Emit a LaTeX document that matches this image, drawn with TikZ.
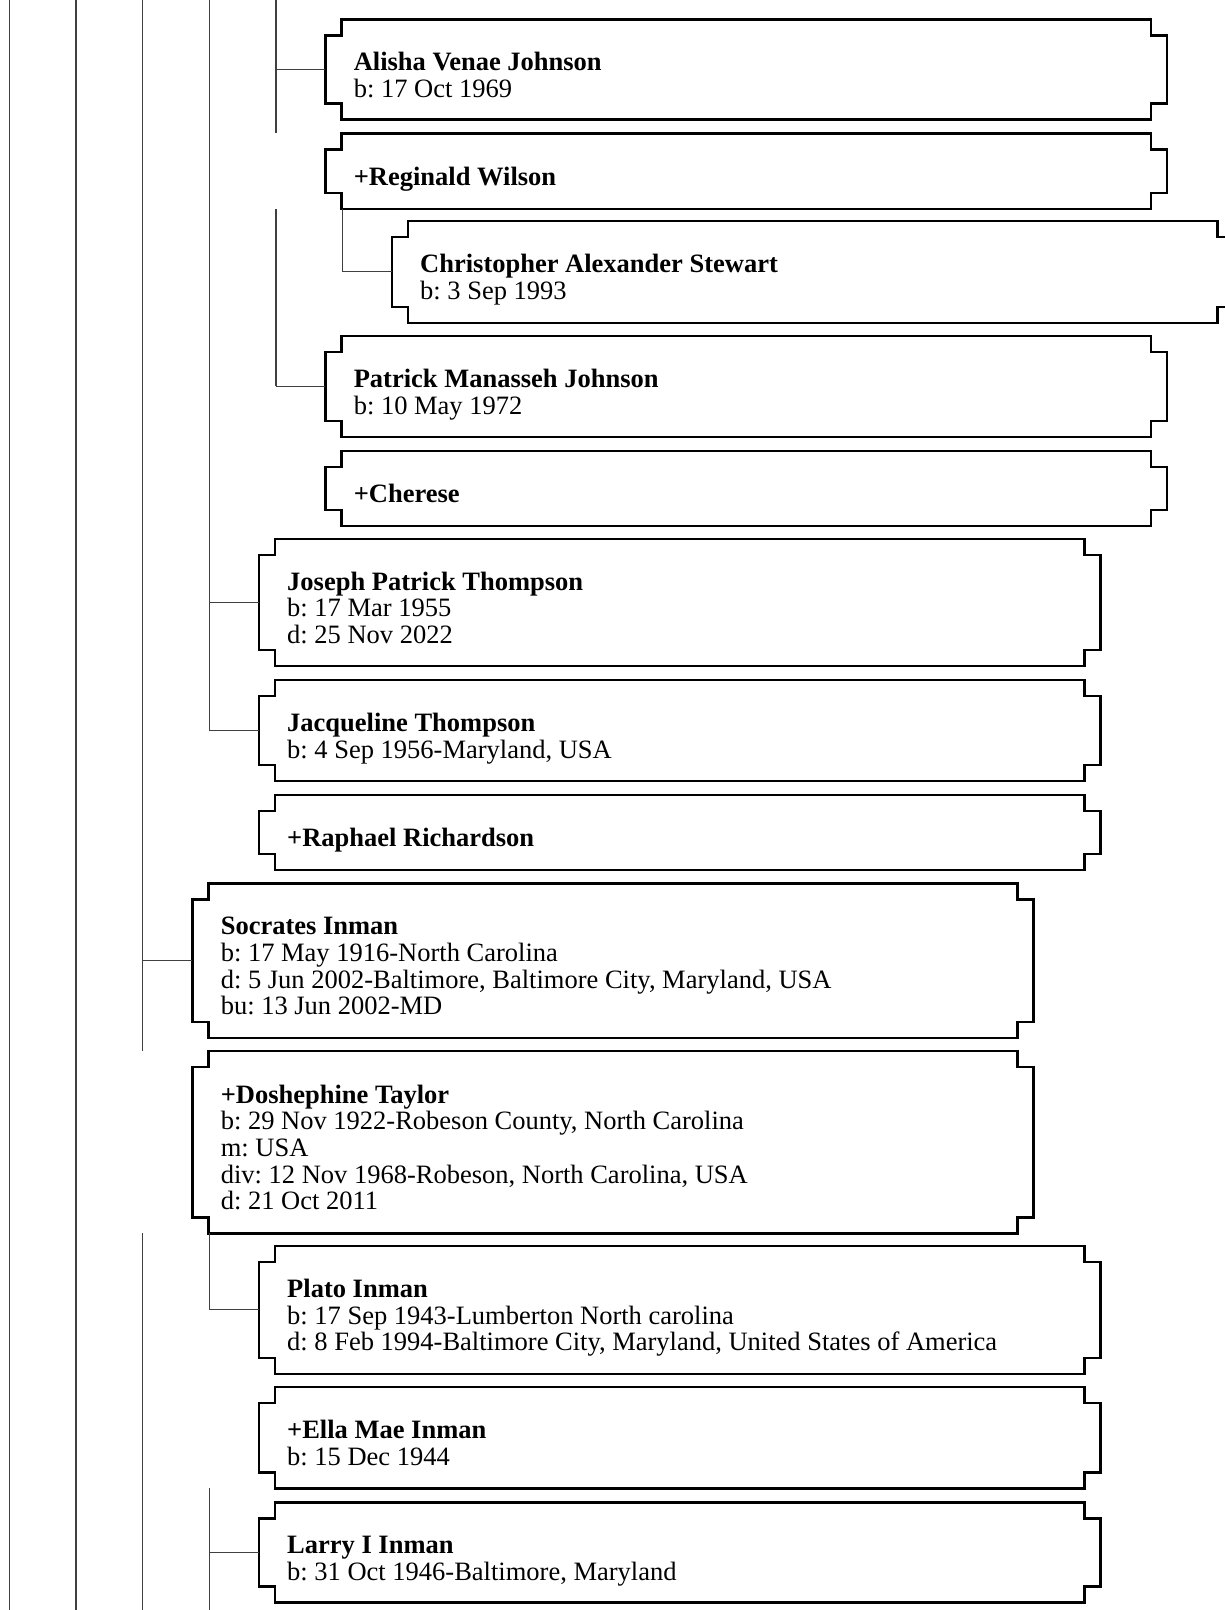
\documentclass[tikz,border=0pt]{standalone}
\usepackage{fontspec}
\setmainfont{Liberation Serif}
\usetikzlibrary{calc}
\frenchspacing
\tikzset{
  conn/.style={draw=black!75, line width=1.1pt},
  boxline/.style={draw=black, line width=2.4pt, line join=miter},
  boxframe/.style={draw=none, inner sep=0pt, outer sep=0pt, rectangle},
  boxtext/.style={anchor=north west, inner sep=0pt, outer sep=0pt, align=left,
    font=\fontsize{26.5}{26.7}\selectfont\frenchspacing},
}
\newcommand\kinbox[7]{%
  \pgfmathsetmacro\kbC{(#4+#5)/2}%
  \pgfmathsetmacro\kbY{\kbC-(#6-1)*13.35+14.4-20}%
  \pgfmathsetmacro\kbX{#2+28.5}%
  \pgfmathsetmacro\kbM{(#2+#3)/2}%
  \node[boxframe, minimum width={(#3-#2)*1pt}, minimum height={(#5-#4)*1pt}] (#1) at (\kbM,\kbC) {};
  \draw[boxline] ([xshift=16pt]#1.north west) -- ([xshift=-16pt]#1.north east)
    -- ++(0pt,-16pt) -- ++(16pt,0pt) -- ([yshift=16pt]#1.south east)
    -- ++(-16pt,0pt) -- ++(0pt,-16pt) -- ([xshift=16pt]#1.south west)
    -- ++(0pt,16pt) -- ++(-16pt,0pt) -- ([yshift=-16pt]#1.north west)
    -- ++(16pt,0pt) -- cycle;
  \node[boxtext] (#1-t) at (\kbX,\kbY) {\rule{0pt}{20pt}#7};
}
\begin{document}
\begin{tikzpicture}[x=1pt,y=-1pt]
\useasboundingbox (0,0) rectangle (1225,1610);
\clip (0,0) rectangle (1225,1610);

% boxes: name, L, R, T, B, lines, text
\kinbox{alis}{325.3}{1166.7}{19.3}{119.3}{2}{\textbf{Alisha Venae Johnson}\\b: 17 Oct 1969}
\kinbox{regi}{325.3}{1166.7}{133.3}{209}{1}{\textbf{+Reginald Wilson}}
\kinbox{chri}{391.7}{1233.3}{221}{322.7}{2}{\textbf{Christopher Alexander Stewart}\\b: 3 Sep 1993}
\kinbox{patr}{325.3}{1166.7}{335.8}{437}{2}{\textbf{Patrick Manasseh Johnson}\\b: 10 May 1972}
\kinbox{cher}{325.3}{1166.7}{451}{525.7}{1}{\textbf{+Cherese}}
\kinbox{jose}{258.7}{1100.3}{539}{665.7}{3}{\textbf{Joseph Patrick Thompson}\\b: 17 Mar 1955\\d: 25 Nov 2022}
\kinbox{jacq}{258.7}{1100.3}{680}{781}{2}{\textbf{Jacqueline Thompson}\\b: 4 Sep 1956-Maryland, USA}
\kinbox{raph}{258.7}{1100.3}{795}{870}{1}{\textbf{+Raphael Richardson}}
\kinbox{socr}{192.3}{1033.3}{883.3}{1037.7}{4}{\textbf{Socrates Inman}\\b: 17 May 1916-North Carolina\\d: 5 Jun 2002-Baltimore, Baltimore City, Maryland, USA\\bu: 13 Jun 2002-MD}
\kinbox{dosh}{192.3}{1033.3}{1051}{1233.3}{5}{\textbf{+Doshephine Taylor}\\b: 29 Nov 1922-Robeson County, North Carolina\\m: USA\\div: 12 Nov 1968-Robeson, North Carolina, USA\\d: 21 Oct 2011}
\kinbox{plat}{258.7}{1100.3}{1245.7}{1374}{3}{\textbf{Plato Inman}\\b: 17 Sep 1943-Lumberton North carolina\\d: 8 Feb 1994-Baltimore City, Maryland, United States of America}
\kinbox{ella}{258.7}{1100.3}{1386.7}{1488.3}{2}{\textbf{+Ella Mae Inman}\\b: 15 Dec 1944}
\kinbox{larr}{258.7}{1100.3}{1502.3}{1602.3}{2}{\textbf{Larry I Inman}\\b: 31 Oct 1946-Baltimore, Maryland}

% trunk coordinates
\coordinate (v1t) at (9.3,0);   \coordinate (v1b) at (9.3,1610);
\coordinate (v2t) at (76,0);    \coordinate (v2b) at (76,1610);
\coordinate (v3t) at (142.7,0); \coordinate (v3b) at (142.7,1610);
\coordinate (v4t) at (209.3,0); \coordinate (v4b) at (209.3,1610);
\coordinate (v5t) at (276,0);
\coordinate (v6t) at (342.3,0);

% vertical lines
\draw[conn] (v1t) -- (v1b);
\draw[conn] (v2t) -- (v2b);
\draw[conn] (v3t) -- (v3t |- dosh.north);
\draw[conn] (v3t |- dosh.south) -- (v3b);
\draw[conn] (v4t) -- (v4t |- jacq.west);
\draw[conn] (v4t |- dosh.south) -- (v4t |- plat.west);
\draw[conn] (v4t |- ella.south) -- (v4b);
\draw[conn] (v5t) -- (v5t |- regi.north);
\draw[conn] (v5t |- regi.south) -- (v5t |- patr.west);
\draw[conn] (v6t |- regi.south) -- (v6t |- chri.west);

% horizontal connectors
\draw[conn] (v5t |- alis.west) -- (alis.west);
\draw[conn] (v6t |- chri.west) -- (chri.west);
\draw[conn] (v5t |- patr.west) -- (patr.west);
\draw[conn] (v4t |- jose.west) -- (jose.west);
\draw[conn] (v4t |- jacq.west) -- (jacq.west);
\draw[conn] (v3t |- socr.west) -- (socr.west);
\draw[conn] (v4t |- plat.west) -- (plat.west);
\draw[conn] (v4t |- larr.west) -- (larr.west);
\end{tikzpicture}
\end{document}
